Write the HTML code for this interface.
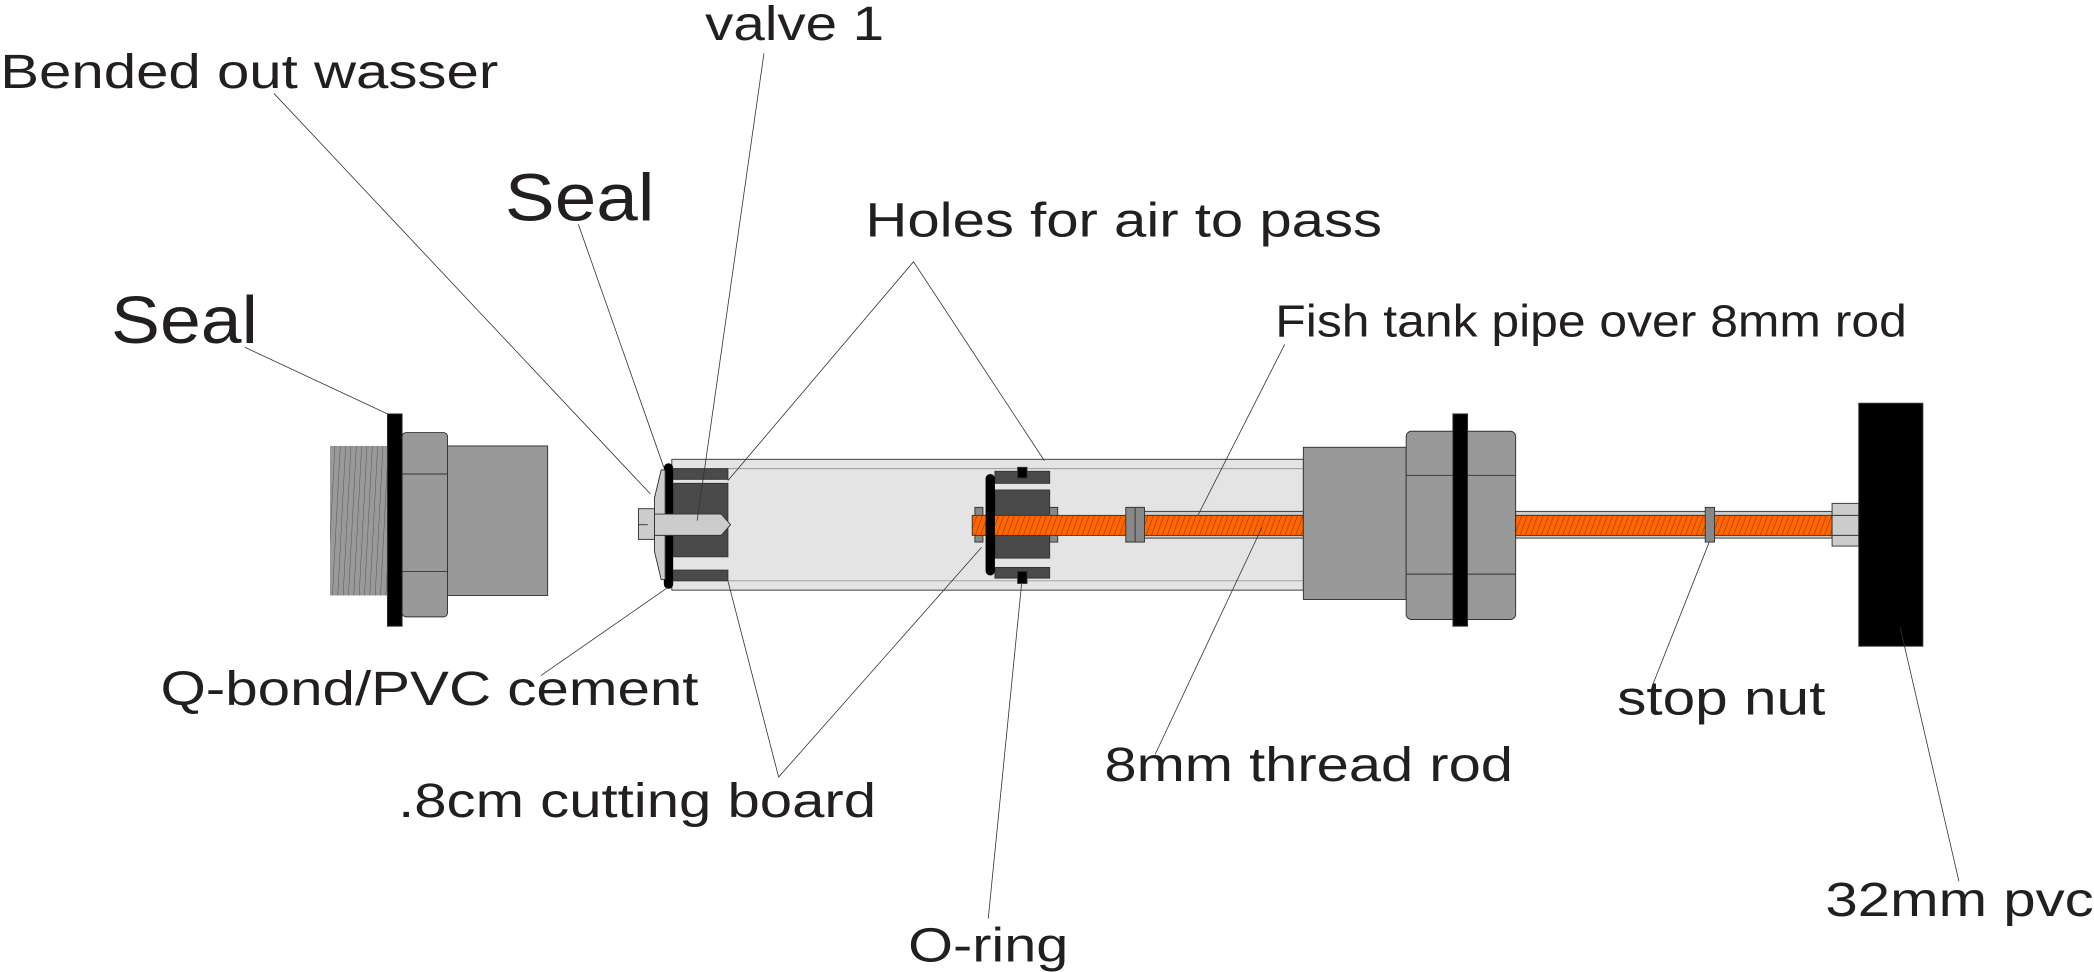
<!DOCTYPE html>
<html><head><meta charset="utf-8"><style>
html,body{margin:0;padding:0;background:#fff;}
svg{display:block;}
text{font-family:"Liberation Sans",sans-serif;fill:#231f20;}
</style></head><body>
<svg width="2094" height="972" viewBox="0 0 1568 728" xmlns="http://www.w3.org/2000/svg">
<defs>
<pattern id="th" width="4" height="16" patternUnits="userSpaceOnUse" patternTransform="skewX(-20)">
<rect width="4" height="16" fill="#ff6600"/><line x1="0" y1="0" x2="0" y2="16" stroke="#5a2000" stroke-width="0.6"/>
</pattern>
<pattern id="tl" width="4" height="120" patternUnits="userSpaceOnUse" patternTransform="skewX(-3)">
<rect width="4" height="120" fill="#999"/><line x1="0" y1="0" x2="0" y2="120" stroke="#333" stroke-width="0.5"/>
</pattern>
</defs>
<g stroke="#333" stroke-width="0.7" fill="none">
<rect x="247" y="334" width="50" height="112" fill="url(#tl)" stroke="none"/>
<rect x="335" y="334" width="75" height="112" fill="#999"/>
<rect x="301" y="324" width="34" height="138" rx="3" fill="#999"/>
<line x1="301" y1="355" x2="335" y2="355"/><line x1="301" y1="428" x2="335" y2="428"/>
<rect x="290" y="310" width="11" height="159" fill="#000"/>
<rect x="503" y="344" width="473" height="98" fill="#e4e4e4"/>
<line x1="503" y1="351" x2="976" y2="351" stroke="#999"/><line x1="503" y1="435" x2="976" y2="435" stroke="#999"/>
<rect x="503" y="351" width="42" height="8" fill="#4a4a4a"/>
<rect x="503" y="427" width="42" height="8" fill="#4a4a4a"/>
<rect x="503" y="362" width="42" height="55" fill="#4a4a4a"/>
<rect x="497" y="347" width="7" height="94" rx="3.5" fill="#000" stroke="none"/>
<polygon points="490,373 495,352 498,352 498,434 495,434 490,413" fill="#ccc"/>
<polygon points="490,385 540,385 547,393 540,401 490,401" fill="#ccc"/>
<rect x="478" y="381" width="12" height="23" fill="#ccc"/>
<line x1="478" y1="393" x2="485" y2="393"/>
<rect x="745" y="353" width="41" height="9" fill="#4a4a4a"/>
<rect x="745" y="367" width="41" height="51" fill="#4a4a4a"/>
<rect x="745" y="425" width="41" height="8" fill="#4a4a4a"/>
<rect x="762" y="350" width="7" height="8" fill="#000"/>
<rect x="762" y="428" width="7" height="9" fill="#000"/>
<rect x="730" y="380" width="6" height="26" fill="#888"/>
<rect x="786" y="380" width="6" height="26" fill="#888"/>
<rect x="850" y="383" width="126" height="20" fill="#ccc"/>
<rect x="728" y="386" width="248" height="15" fill="url(#th)"/>
<rect x="738" y="355" width="7" height="76" rx="3.5" fill="#000" stroke="none"/>
<rect x="843" y="380" width="14" height="26" fill="#888"/>
<line x1="850" y1="380" x2="850" y2="406"/>
<rect x="976" y="335" width="77" height="114" fill="#999"/>
<rect x="1053" y="323" width="82" height="141" rx="4" fill="#999"/>
<line x1="1053" y1="356" x2="1135" y2="356"/><line x1="1053" y1="430" x2="1135" y2="430"/>
<rect x="1088" y="310" width="11" height="159" fill="#000"/>
<rect x="1135" y="383" width="237" height="20" fill="#ccc"/>
<rect x="1135" y="386" width="237" height="15" fill="url(#th)"/>
<rect x="1277" y="380" width="7" height="26" fill="#888"/>
<rect x="1372" y="377" width="20" height="32" fill="#ccc"/>
<line x1="1372" y1="386" x2="1392" y2="386"/><line x1="1372" y1="401" x2="1392" y2="401"/>
<rect x="1392" y="302" width="48" height="182" fill="#000"/>
</g>
<g stroke="#333" stroke-width="0.6" fill="none">
<line x1="183" y1="260" x2="290" y2="310"/>
<line x1="205" y1="70" x2="487" y2="370"/>
<line x1="433" y1="168" x2="497" y2="350"/>
<line x1="572" y1="40" x2="522" y2="390"/>
<polyline points="545,360 684,196 782,345"/>
<line x1="962" y1="258" x2="897" y2="386"/>
<line x1="405" y1="506" x2="500" y2="440"/>
<polyline points="545,435 583,582 735,410"/>
<line x1="865" y1="565" x2="945" y2="395"/>
<line x1="1238" y1="512" x2="1280" y2="406"/>
<line x1="740" y1="688" x2="765" y2="437"/>
<line x1="1467" y1="660" x2="1423" y2="470"/>
</g>
<g font-size="36" lengthAdjust="spacingAndGlyphs">
<text x="528" y="30" textLength="134" lengthAdjust="spacingAndGlyphs">valve 1</text>
<text x="0" y="66" textLength="373" lengthAdjust="spacingAndGlyphs">Bended out wasser</text>
<text x="378" y="165" font-size="50" textLength="112" lengthAdjust="spacingAndGlyphs">Seal</text>
<text x="83" y="257" font-size="50" textLength="110" lengthAdjust="spacingAndGlyphs">Seal</text>
<text x="648" y="177" textLength="387" lengthAdjust="spacingAndGlyphs">Holes for air to pass</text>
<text x="955" y="252" font-size="34" textLength="473" lengthAdjust="spacingAndGlyphs">Fish tank pipe over 8mm rod</text>
<text x="120" y="528" textLength="403" lengthAdjust="spacingAndGlyphs">Q-bond/PVC cement</text>
<text x="298" y="612" textLength="358" lengthAdjust="spacingAndGlyphs">.8cm cutting board</text>
<text x="827" y="585" textLength="306" lengthAdjust="spacingAndGlyphs">8mm thread rod</text>
<text x="1211" y="535" textLength="156" lengthAdjust="spacingAndGlyphs">stop nut</text>
<text x="680" y="720" textLength="120" lengthAdjust="spacingAndGlyphs">O-ring</text>
<text x="1367" y="686" textLength="201" lengthAdjust="spacingAndGlyphs">32mm pvc</text>
</g>
</svg>
</body></html>
